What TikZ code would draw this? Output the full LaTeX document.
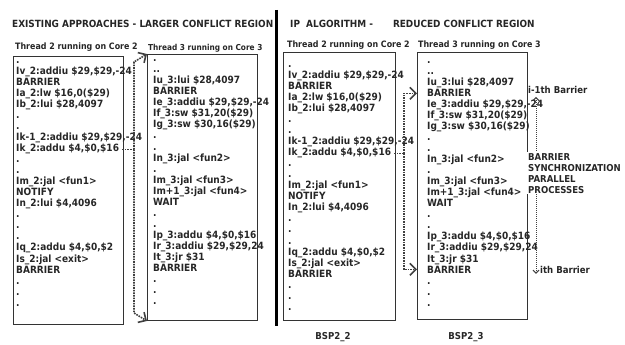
\documentclass[tikz,border=0pt]{standalone}
\usepackage{fontspec}
\setmainfont{DejaVu Sans Condensed}
\usetikzlibrary{arrows.meta}

\tikzset{
  txt/.style={inner sep=0pt, font=\bfseries\fontsize{9.5}{11}\selectfont, text=black!85},
  headtxt/.style={txt, anchor=west, font=\bfseries\fontsize{9.9}{12}\selectfont},
  titletxt/.style={txt, anchor=west, font=\bfseries\fontsize{8.8}{11}\selectfont},
  codeline/.style={txt, anchor=base west, font=\bfseries\fontsize{10}{11}\selectfont},
  codebox/.style={draw=black!80, line width=1pt, inner sep=0pt, anchor=north west},
  flow/.style={line width=1.6pt, densely dotted, black!75},
  tip/.style={-{Straight Barb[length=6pt,width=12pt,line width=1.6pt]}},
  span/.style={line width=1pt, densely dotted, black!75,
    {Straight Barb[length=3pt,width=6pt,line width=1pt]}-{Straight Barb[length=3pt,width=6pt,line width=1pt]}}
}

% instruction lists of the two threads
\newcommand{\threadtwo}{., {Iv\_2:addiu \$29,\$29,-24}, BARRIER, {Ia\_2:lw \$16,0(\$29)},
  {Ib\_2:lui \$28,4097}, ., ., {Ik-1\_2:addiu \$29,\$29,-24}, {Ik\_2:addu \$4,\$0,\$16}, ., .,
  {Im\_2:jal <fun1>}, NOTIFY, {In\_2:lui \$4,4096}, ., ., ., {Iq\_2:addu \$4,\$0,\$2},
  {Is\_2:jal <exit>}, BARRIER, ., ., .}
\newcommand{\threadthree}{., .., {Iu\_3:lui \$28,4097}, BARRIER, {Ie\_3:addiu \$29,\$29,-24},
  {If\_3:sw \$31,20(\$29)}, {Ig\_3:sw \$30,16(\$29)}, ., ., {In\_3:jal <fun2>}, .,
  {Im\_3:jal <fun3>}, {Im+1\_3:jal <fun4>}, WAIT, ., ., {Ip\_3:addu \$4,\$0,\$16},
  {Ir\_3:addiu \$29,\$29,24}, {It\_3:jr \$31}, BARRIER, ., ., .}

\begin{document}
\begin{tikzpicture}[x=1pt,y=-1pt]
  \useasboundingbox (0,0) rectangle (625,345);

  % headings
  \node[headtxt] (head1) at (12,24) {EXISTING APPROACHES - LARGER CONFLICT REGION};
  \node[headtxt] (head2) at (290,24) {IP\ \ ALGORITHM -\hspace{20pt}REDUCED CONFLICT REGION};
  \draw[line width=3pt] (276,10) -- (276,326);

  % thread titles
  \node[titletxt] (title1) at (15,47) {Thread 2 running on Core 2};
  \node[titletxt, font=\bfseries\fontsize{8.2}{11}\selectfont] (title2) at (148,48) {Thread 3 running on Core 3};
  \node[titletxt] (title3) at (287,45) {Thread 2 running on Core 2};
  \node[titletxt] (title4) at (418,45) {Thread 3 running on Core 3};

  % boxes
  \node[codebox, minimum width=110pt, minimum height=268pt] (box1) at (13,56) {};
  \node[codebox, minimum width=110pt, minimum height=266pt] (box2) at (147,54) {};
  \node[codebox, minimum width=112pt, minimum height=268pt] (box3) at (283,52) {};
  \node[codebox, minimum width=110pt, minimum height=267pt] (box4) at (417,52) {};

  \foreach \instr [count=\i from 0] in \threadtwo {
    \node[codeline] (a-\i) at (16,64+11*\i) {\instr};
    \node[codeline] (c-\i) at (288,68+11*\i) {\instr};
  }
  \foreach \instr [count=\i from 0] in \threadthree {
    \node[codeline] (b-\i) at (153,62+11*\i) {\instr};
    \node[codeline] (d-\i) at (427,64+11*\i) {\instr};
  }

  % existing approach: whole region
  \coordinate (lup) at (134,62);
  \coordinate (ldown) at (134,313);
  \draw[flow] ([xshift=3pt]a-8.east) -- (a-8.east -| lup);
  \draw[flow, tip] (a-8.east -| lup) -- (lup) -- (box2.north west);
  \draw[flow, tip] (a-8.east -| lup) -- (ldown) -- (box2.south west);

  % IP algorithm: barrier to barrier
  \coordinate (rbus) at (404,155);
  \draw[flow] ([xshift=3pt]c-8.east) -- (c-8.east -| rbus);
  \draw[flow, tip] (c-8.east -| rbus) -- (rbus |- d-3) -- (box4.west |- d-3);
  \draw[flow, tip] (c-8.east -| rbus) -- (rbus |- d-19) -- (box4.west |- d-19);

  % barrier span
  \node[txt, anchor=west] (prev) at (528,90) {i-1th Barrier};
  \node[txt, anchor=west] (next) at (540,270) {ith Barrier};
  \draw[span] ([xshift=8pt,yshift=-3pt]prev.south west) -- ([xshift=-4pt]next.south west);
  \node[txt, anchor=north west, align=left, fill=white, inner sep=1pt] (sync) at (527,152)
    {BARRIER\\SYNCHRONIZATION\\PARALLEL\\PROCESSES};

  \node[txt] (bsp2) at (333,337) {BSP2\_2};
  \node[txt] (bsp3) at (466,337) {BSP2\_3};
\end{tikzpicture}
\end{document}
